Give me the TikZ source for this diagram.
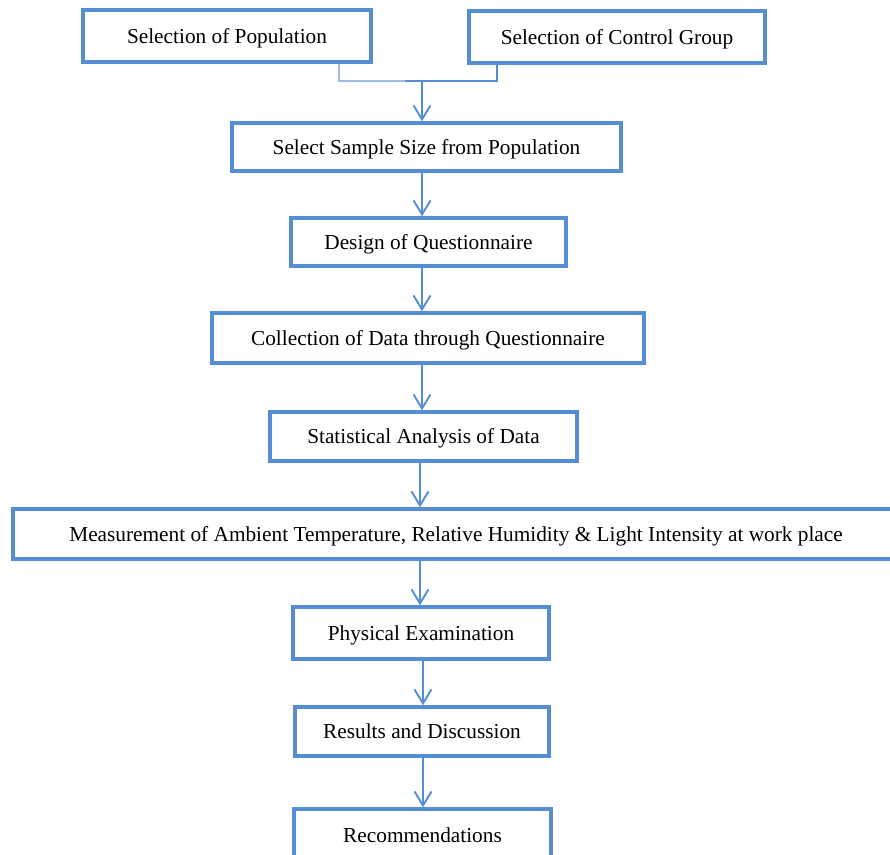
\documentclass[tikz,border=0pt]{standalone}
\usepackage{fontspec}
\setmainfont{Liberation Serif}
\usetikzlibrary{arrows.meta}
\definecolor{boxblue}{RGB}{85,142,213}
\definecolor{lightblue}{RGB}{155,188,230}
\tikzset{
  stepbox/.style={draw=boxblue, line width=3.5pt, fill=white, inner sep=0pt,
    text height=15pt, text depth=1pt,
    font=\fontsize{21.3}{25}\selectfont, text=black},
  arr/.style={draw=boxblue, line width=1.9pt,
    -{Straight Barb[length=14pt,width=17pt,line width=1.9pt]}},
  joinline/.style={draw=boxblue, line width=1.8pt},
  joinlight/.style={draw=lightblue, line width=1.8pt}
}
\begin{document}
\begin{tikzpicture}[x=1pt,y=-1pt]
\useasboundingbox (0,0) rectangle (890,854);
\clip (0,0) rectangle (890,854);
\fill[white] (0,0) rectangle (890,854);
\node[stepbox, minimum width=288pt, minimum height=52pt] (b1) at (227,36) {Selection of Population};
\node[stepbox, minimum width=296pt, minimum height=52pt] (b2) at (617,37) {Selection of Control Group};
\node[stepbox, minimum width=389pt, minimum height=48pt] (b3) at (426.5,147) {Select Sample Size from Population};
\node[stepbox, minimum width=275pt, minimum height=48pt] (b4) at (428.5,242) {Design of Questionnaire};
\node[stepbox, minimum width=432pt, minimum height=50pt] (b5) at (428,338) {Collection of Data through Questionnaire};
\node[stepbox, minimum width=307pt, minimum height=49pt] (b6) at (423.5,436.5) {Statistical Analysis of Data};
\node[stepbox, minimum width=900pt, minimum height=50pt] (b7) at (463,534) {\hspace*{-14pt}Measurement of Ambient Temperature, Relative Humidity \& Light Intensity at work place};
\node[stepbox, minimum width=256pt, minimum height=52pt] (b8) at (421,633) {Physical Examination};
\node[stepbox, minimum width=254pt, minimum height=49pt] (b9) at (422,731.5) {Results and Discussion};
\node[stepbox, minimum width=257pt, minimum height=52pt] (b10) at (422.5,835) {Recommendations};
% junction under the top boxes
\coordinate (jl) at (339,81);
\coordinate (jm) at (405,81);
\coordinate (jr) at (497,81);
\coordinate (ja) at (422,81);
\draw[joinlight] (b1.south -| jl) -- (jl) -- (jm);
\draw[joinline] (jm) -- (jr) -- (b2.south -| jr);
\draw[arr] (ja) -- (b3.north -| ja);
% vertical axes for arrows
\coordinate (ax) at (422,0);
\coordinate (bx) at (420,0);
\coordinate (cx) at (423,0);
\draw[arr] (b3.south -| ax) -- (b4.north -| ax);
\draw[arr] (b4.south -| ax) -- (b5.north -| ax);
\draw[arr] (b5.south -| ax) -- (b6.north -| ax);
\draw[arr] (b6.south -| bx) -- (b7.north -| bx);
\draw[arr] (b7.south -| bx) -- (b8.north -| bx);
\draw[arr] (b8.south -| cx) -- (b9.north -| cx);
\draw[arr] (b9.south -| cx) -- (b10.north -| cx);
\end{tikzpicture}
\end{document}
